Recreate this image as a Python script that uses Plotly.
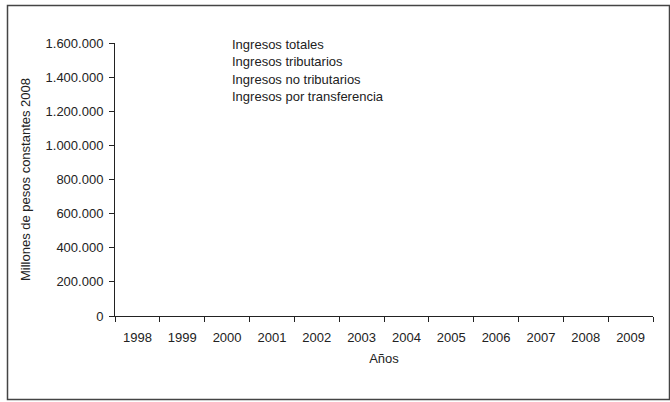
import plotly.graph_objects as go

years = ["1998", "1999", "2000", "2001", "2002", "2003", "2004", "2005", "2006", "2007", "2008", "2009"]
series_names = ["Ingresos totales", "Ingresos tributarios", "Ingresos no tributarios", "Ingresos por transferencia"]
# No data marks are visible in the reference chart
ingresos_totales = [None] * 12
ingresos_tributarios = [None] * 12
ingresos_no_tributarios = [None] * 12
ingresos_transferencia = [None] * 12
y_ticks = [0, 200000, 400000, 600000, 800000, 1000000, 1200000, 1400000, 1600000]

FONT = "Liberation Sans, Arial, sans-serif"
TXT = "#222222"

fig = go.Figure()
for name, vals in zip(series_names, [ingresos_totales, ingresos_tributarios,
                                     ingresos_no_tributarios, ingresos_transferencia]):
    fig.add_trace(go.Scatter(x=years, y=vals, name=name, mode="lines",
                             line=dict(width=0, color="rgba(0,0,0,0)"),
                             showlegend=False))

W, H = 670, 402
L, R, T, B = 115, 17, 43, 86
pw, ph = W - L - R, H - T - B

def px(x):
    return (x - L) / pw

def py(y):
    return (H - B - y) / ph

# legend-like text block (no symbols in the reference)
for i, name in enumerate(series_names):
    fig.add_annotation(text=name, xref="paper", yref="paper",
                       x=px(230), y=py(45 + 17 * i), xanchor="left", yanchor="middle",
                       showarrow=False, font=dict(family=FONT, size=13, color=TXT))

fig.update_layout(
    width=W, height=H,
    margin=dict(l=L, r=R, t=T, b=B),
    paper_bgcolor="white", plot_bgcolor="white",
    separators=",.",
    font=dict(family=FONT, size=13, color=TXT),
    showlegend=False,
    xaxis=dict(type="category", range=[-0.5, 11.5], tickson="boundaries",
               ticks="outside", ticklen=5, tickcolor="#222", showline=True,
               linecolor="#222", linewidth=1, showgrid=False, zeroline=False,
               ticklabelstandoff=9,
               tickfont=dict(family=FONT, size=13, color=TXT),
               title=dict(text="Años", font=dict(family=FONT, size=13, color=TXT), standoff=10)),
    yaxis=dict(range=[0, 1600000], tickvals=y_ticks, tickformat=",d",
               ticks="outside", ticklen=5, tickcolor="#222", showline=True,
               linecolor="#222", linewidth=1, showgrid=False, zeroline=False,
               ticklabelstandoff=3,
               tickfont=dict(family=FONT, size=13, color=TXT),
               title=dict(text="Millones de pesos constantes 2008",
                          font=dict(family=FONT, size=13, color=TXT), standoff=12)),
)

fig.add_shape(type="rect", xref="paper", yref="paper",
              x0=px(7.5), x1=px(669.5), y0=py(399.5), y1=py(5.5),
              line=dict(color="#444", width=1.5), fillcolor="rgba(0,0,0,0)", layer="below")

fig.write_html("out.html", config={"displayModeBar": False},
               post_script="document.body.style.margin='0';document.body.style.padding='0';")
